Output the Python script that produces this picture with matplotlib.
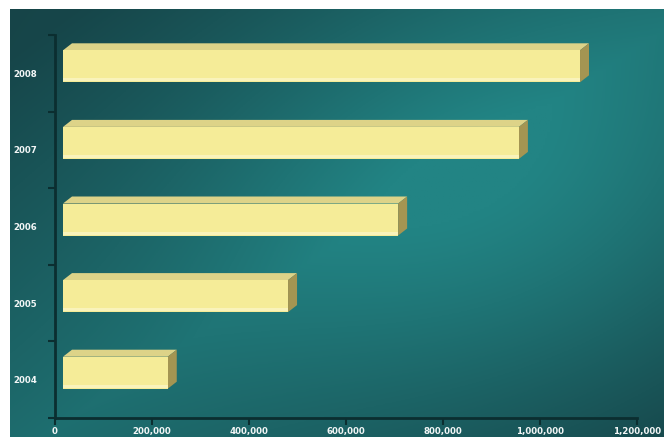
import numpy as np
import matplotlib
matplotlib.use("Agg")
import matplotlib.pyplot as plt
from matplotlib.patches import Polygon

# Data.
years = ["2004", "2005", "2006", "2007", "2008"]
values = [216000, 464000, 691000, 940000, 1066000]
x_ticks = [0, 200000, 400000, 600000, 800000, 1000000, 1200000]
x_labels = ["0", "200,000", "400,000", "600,000", "800,000", "1,000,000", "1,200,000"]

W, H = 664, 437
fig = plt.figure(figsize=(W / 100, H / 100), dpi=100)
fig.patch.set_facecolor("white")

# Background gradient: dark corners top-left / bottom-right, lighter diagonal band.
bg = fig.add_axes([10 / W, 0, 1 - 10 / W, (H - 9) / H])
bg.set_axis_off()
vv, uu = np.mgrid[0:1:200j, 0:1:300j]
band = np.clip(1 - np.abs(uu + vv - 1.05) / 0.95, 0, 1)
spot = np.exp(-(((uu - 0.75) / 0.45) ** 2 + ((vv - 0.45) / 0.5) ** 2))
t = np.clip(0.65 * band + 0.45 * spot, 0, 1)
light = np.array([34, 132, 132]) / 255
dark = np.array([22, 68, 72]) / 255
img = dark + (light - dark) * t[..., None]
bg.imshow(img, aspect="auto", extent=[0, 1, 0, 1], origin="upper")

# Main axes.
ax = fig.add_axes([55 / W, 19 / H, 582 / W, 383 / H])
ax.patch.set_alpha(0)
ax.set_xlim(0, 1200000)
ax.set_ylim(-0.5, len(years) - 0.5)

# 3D look: offsets in pixels converted to data units.
px_x = 1200000 / 582
px_y = len(years) / 383
off_x, off_y = 8 * px_x, 7 * px_y
dep_x, dep_y = 9 * px_x, 7 * px_y
h = 32 * px_y

front_col = "#f5ec98"
top_col = "#ddd388"
side_col = "#a49552"

for i, v in enumerate(values):
    x0 = off_x
    x1 = off_x + v
    yb = i + off_y - h / 2
    yt = i + off_y + h / 2
    ax.add_patch(Polygon([(x0, yt), (x0 + dep_x, yt + dep_y), (x1 + dep_x, yt + dep_y), (x1, yt)],
                         closed=True, facecolor=top_col, edgecolor="none", zorder=3))
    ax.add_patch(Polygon([(x1, yb), (x1, yt), (x1 + dep_x, yt + dep_y), (x1 + dep_x, yb + dep_y)],
                         closed=True, facecolor=side_col, edgecolor="none", zorder=3))
    ax.barh(i + off_y, v, height=h, left=x0, color=front_col, edgecolor="none", zorder=4)
    ax.barh(i + off_y - h / 2 + 2.5 * px_y, v, height=3 * px_y, left=x0, color="#f9f3bb", edgecolor="none", zorder=5)

for s in ["top", "right"]:
    ax.spines[s].set_visible(False)
for s in ["left", "bottom"]:
    ax.spines[s].set_color("#0b2e30")
    ax.spines[s].set_linewidth(2)

ax.set_xticks(x_ticks)
ax.set_xticklabels(x_labels)
ax.set_yticks(np.arange(len(years)))
ax.set_yticklabels(years)
ax.set_yticks(np.arange(len(years) + 1) - 0.5, minor=True)
ax.tick_params(axis="y", which="major", length=0, pad=13)
ax.tick_params(axis="y", which="minor", length=5, width=1.5, color="#0b2e30")
ax.tick_params(axis="x", length=5, width=1.5, color="#0b2e30", pad=1.5)
for lab in ax.get_xticklabels() + ax.get_yticklabels():
    lab.set_color("#f2f6f6")
    lab.set_fontsize(6.2)
    lab.set_fontweight("bold")

fig.savefig("out.png", dpi=100)
